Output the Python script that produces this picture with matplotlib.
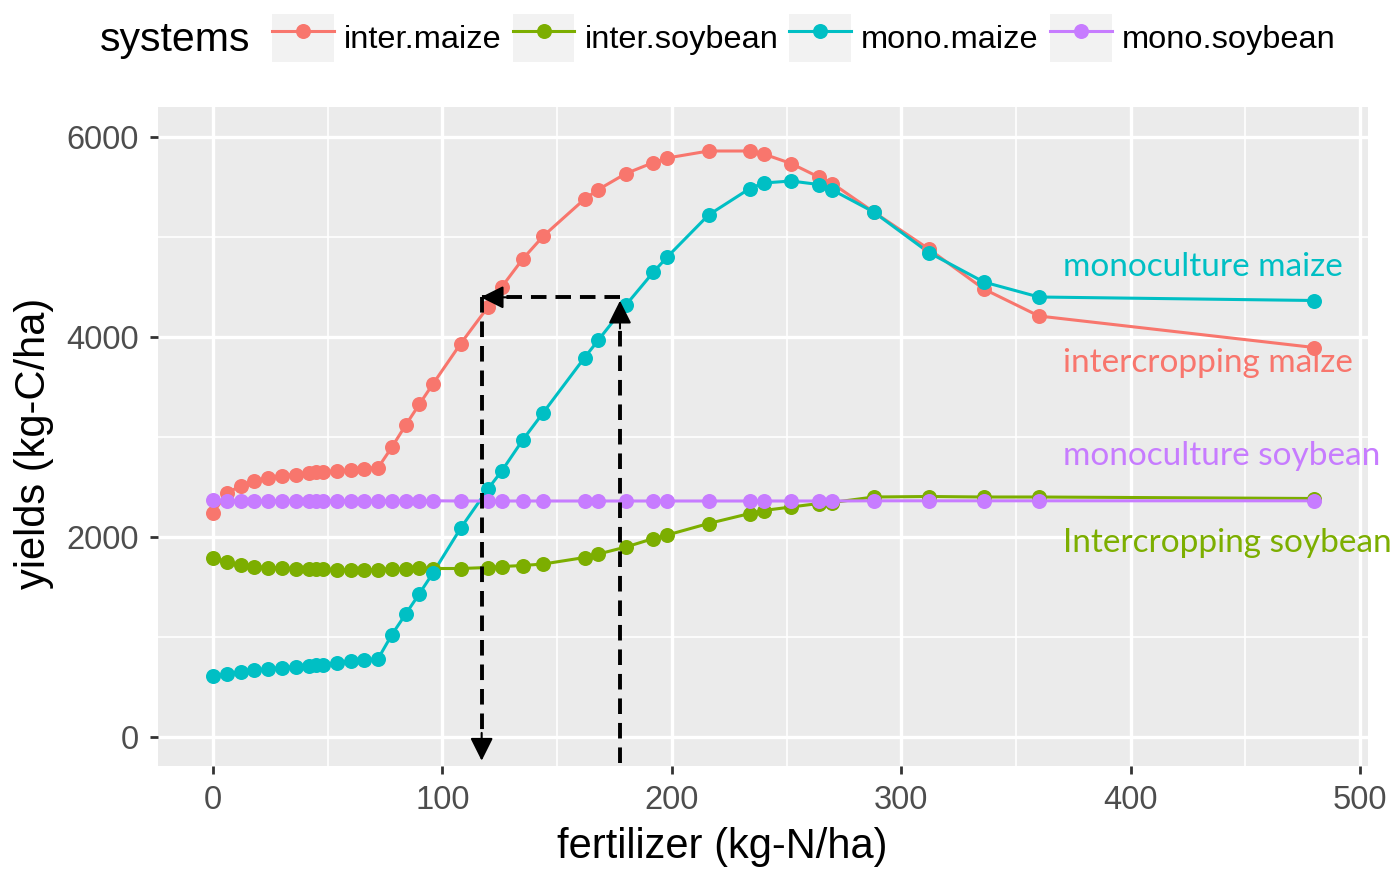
import matplotlib
matplotlib.use("Agg")
import matplotlib.pyplot as plt
import matplotlib.patches as mpatches
from matplotlib.lines import Line2D

plt.rcParams['font.family'] = ['Liberation Sans', 'DejaVu Sans']

# fertilizer rates (kg-N/ha), shared by all systems
fert = [0, 6, 12, 18, 24, 30, 36, 42, 45, 48, 54, 60, 66, 72, 78, 84, 90, 96,
        108, 120, 126, 135, 144, 162, 168, 180, 192, 198, 216, 234, 240, 252,
        264, 270, 288, 312, 336, 360, 480]

inter_maize = [2240, 2440, 2510, 2560, 2595, 2615, 2625, 2640, 2650, 2655, 2660,
               2670, 2685, 2695, 2900, 3120, 3330, 3535, 3935, 4305, 4505, 4780,
               5010, 5380, 5475, 5635, 5745, 5790, 5860, 5860, 5830, 5735, 5600,
               5535, 5250, 4880, 4480, 4210, 3895]
inter_soybean = [1795, 1750, 1720, 1705, 1695, 1690, 1685, 1680, 1680, 1680, 1675,
                 1670, 1670, 1675, 1685, 1685, 1695, 1685, 1685, 1695, 1705, 1715,
                 1730, 1795, 1830, 1900, 1985, 2020, 2135, 2235, 2265, 2300, 2335,
                 2345, 2400, 2405, 2400, 2400, 2385]
mono_maize = [610, 630, 655, 670, 685, 695, 705, 715, 720, 725, 745, 760, 770, 785,
              1025, 1230, 1435, 1645, 2090, 2485, 2665, 2970, 3245, 3795, 3970,
              4320, 4650, 4800, 5220, 5485, 5540, 5560, 5525, 5470, 5250, 4845,
              4550, 4400, 4365]
mono_soybean = [2368, 2365, 2365, 2365, 2365, 2365, 2365, 2365, 2365, 2365, 2365,
                2365, 2365, 2365, 2365, 2362, 2362, 2362, 2360, 2360, 2360, 2360,
                2360, 2360, 2360, 2360, 2360, 2360, 2360, 2360, 2360, 2360, 2360,
                2360, 2362, 2362, 2362, 2362, 2362]

systems = ['inter.maize', 'inter.soybean', 'mono.maize', 'mono.soybean']
colors = ['#F8766D', '#7CAE00', '#00BFC4', '#C77CFF']
series = [inter_maize, inter_soybean, mono_maize, mono_soybean]

# labels placed at the right of the panel
lab_text = ['monoculture maize', 'intercropping maize', 'monoculture soybean', 'Intercropping soybean']
lab_col = ['#00BFC4', '#F8766D', '#C77CFF', '#7CAE00']
lab_y = [4615, 3650, 2720, 1845]
lab_x = 370.5

# dashed guide: mono maize rate -> same yield in intercropping -> its rate
guide_x = [177.4, 117.1]
guide_yield = 4397
guide_bottom = [-257, -237]

fig = plt.figure(figsize=(13.93, 8.69), dpi=100)
ax = fig.add_axes([158/1393, 1-766/869, 1210/1393, 659/869])
ax.set_facecolor('#EBEBEB')
for s in ax.spines.values():
    s.set_visible(False)
ax.set_xlim(-24, 503.5)
ax.set_ylim(-290, 6300)
ax.set_xticks([0, 100, 200, 300, 400, 500])
ax.set_xticks([50, 150, 250, 350, 450], minor=True)
ax.set_yticks([0, 2000, 4000, 6000])
ax.set_yticks([1000, 3000, 5000], minor=True)
ax.grid(which='major', color='white', lw=2.4)
ax.grid(which='minor', color='white', lw=1.2)
ax.set_axisbelow(True)
ax.tick_params(which='major', length=6, width=2, color='#333333',
               labelsize=23.5, labelcolor='#4D4D4D', pad=8)
ax.tick_params(which='minor', length=0)

for ys, c in zip(series, colors):
    ax.plot(fert, ys, color=c, lw=2.2, zorder=2)
for ys, c in zip(series, colors):
    ax.plot(fert, ys, 'o', color=c, ms=10.8, mew=0, zorder=3)

dash = (0, (4.0, 2.3))
segs = [((guide_x[0], guide_bottom[0]), (guide_x[0], guide_yield - 34), (0, -20)),
        ((guide_x[0], guide_yield), (guide_x[1] - 0.4, guide_yield), (20, 0)),
        ((guide_x[1], guide_yield), (guide_x[1], guide_bottom[1]), (0, 20))]
for (x0, y0), (x1, y1), off in segs:
    ax.plot([x0, x1], [y0, y1], color='black', lw=2.8, ls=dash, zorder=4)
    ax.annotate('', xy=(x1, y1), xytext=off, textcoords='offset points',
                arrowprops=dict(arrowstyle='-|>,head_length=1.0,head_width=0.5',
                                color='black', lw=1.5, shrinkA=0, shrinkB=0,
                                mutation_scale=14), zorder=5)

for t, c, y in zip(lab_text, lab_col, lab_y):
    ax.text(lab_x, y, t, color=c, fontsize=24, family=['Lato', 'DejaVu Sans'],
            ha='left', va='baseline', clip_on=False, zorder=6)

fig.text(722/1393, 1-847/869, 'fertilizer (kg-N/ha)', fontsize=30,
         ha='center', va='center')
fig.text(34/1393, 1-443/869, 'yields (kg-C/ha)', fontsize=30, rotation=90,
         ha='center', va='center')

# legend on top, title at the left like ggplot
fig.text(100/1393, 1-51/869, 'systems', fontsize=29.5, ha='left', va='baseline')
handles = []
for c in colors:
    bg = mpatches.Patch(facecolor='#F2F2F2', edgecolor='none')
    ln = Line2D([], [], color=c, lw=2.2, marker='o', ms=10.8, mew=0)
    handles.append((bg, ln))
fig.legend(handles, systems, ncol=4, loc='center left',
           bbox_to_anchor=(272/1393, 1-38/869), borderaxespad=0, borderpad=0,
           frameon=False, fontsize=23.4, handlelength=1.9, handleheight=1.9,
           handletextpad=0.31, columnspacing=0.34, numpoints=1)

fig.savefig('out.png', dpi=100)
